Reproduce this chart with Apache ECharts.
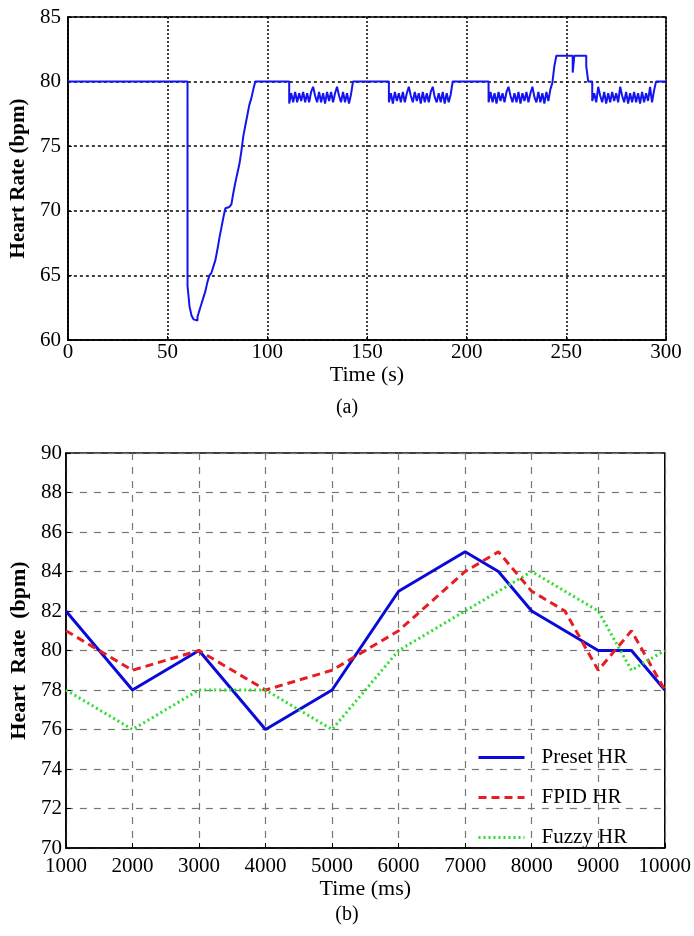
<!DOCTYPE html>
<html>
<head>
<meta charset="utf-8">
<script src="https://cdn.jsdelivr.net/npm/echarts@6/dist/echarts.min.js"></script>
<style>
html,body{margin:0;padding:0;background:#fff;}
#chart{width:694px;height:936px;}
</style>
</head>
<body>
<div id="chart"></div>
<script>
// ---------- (a) Heart rate over time (s) ----------
const topXTicks = [0, 50, 100, 150, 200, 250, 300];
const topYTicks = [60, 65, 70, 75, 80, 85];
const dropTimes = [60, 61, 62, 63, 64, 65, 66, 67, 68, 69, 70, 71, 72, 73, 74, 75, 76, 77, 78, 79, 80, 81, 82, 83, 84, 85, 86, 87, 88, 89, 90, 91, 92, 93, 94];
const dropHR = [64.2, 62.6, 61.9, 61.6, 61.5, 61.8, 62.3, 62.8, 63.3, 63.8, 64.5, 65.0, 65.2, 65.7, 66.2, 67.0, 67.9, 68.7, 69.5, 70.2, 70.3, 70.4, 70.5, 71.4, 72.2, 72.9, 73.6, 74.6, 75.8, 76.6, 77.4, 78.2, 78.7, 79.4, 80];
const osc1Start = 111;
const osc1HR = [78.3, 79.1, 78.4, 79.2, 78.4, 79.1, 78.5, 79.2, 78.4, 79.1, 78.4, 79.2, 79.6, 78.9, 78.4, 79.2, 78.4, 79.1, 78.3, 79.2, 78.5, 79.2, 78.4, 79.1, 79.6, 78.9, 78.4, 79.2, 78.4, 79.1, 78.3, 79.0];
const osc2Start = 161;
const osc2HR = [78.4, 79.1, 78.3, 79.2, 78.5, 79.1, 78.4, 79.2, 78.4, 79.1, 79.6, 78.9, 78.4, 79.2, 78.5, 79.1, 78.3, 79.2, 78.4, 79.1, 78.4, 79.2, 79.6, 78.8, 78.4, 79.1, 78.4, 79.2, 78.3, 79.1, 78.4, 79.0];
const osc3Start = 211;
const osc3HR = [78.4, 79.2, 78.4, 79.1, 78.3, 79.2, 78.5, 79.1, 78.4, 79.2, 79.6, 78.9, 78.4, 79.1, 78.4, 79.2, 78.3, 79.1, 78.5, 79.2, 78.4, 79.1, 79.6, 78.8, 78.4, 79.2, 78.4, 79.1, 78.3, 79.2, 78.5, 79.4];
const bumpTimes = [243, 244, 245, 253.2, 254, 260, 261];
const bumpHR = [79.9, 81.2, 82, 80.7, 82, 81.2, 80];
const osc4Start = 263;
const osc4HR = [78.5, 79.1, 78.4, 79.6, 78.9, 78.4, 79.2, 78.3, 79.1, 78.4, 79.2, 78.5, 79.1, 78.4, 79.6, 78.9, 78.4, 79.2, 78.3, 79.1, 78.4, 79.2, 78.4, 79.1, 78.3, 79.2, 78.4, 79.1, 78.5, 79.6, 78.4, 79.3];
const levelTimes = [0, 143, 193, 295, 300];
const levelHR = [80, 80, 80, 80, 80];

// ---------- (b) Heart rate over time (ms) ----------
const botXTicks = [1000, 2000, 3000, 4000, 5000, 6000, 7000, 8000, 9000, 10000];
const botYTicks = [70, 72, 74, 76, 78, 80, 82, 84, 86, 88, 90];
const presetT = [1000, 2000, 3000, 4000, 5000, 6000, 7000, 7500, 8000, 9000, 9500, 10000];
const presetHR = [82, 78, 80, 76, 78, 83, 85, 84, 82, 80, 80, 78];
const fpidT = [1000, 2000, 3000, 4000, 5000, 6000, 7000, 7500, 8000, 8500, 9000, 9500, 10000];
const fpidHR = [81, 79, 80, 78, 79, 81, 84, 85, 83, 82, 79, 81, 78];
const fuzzyT = [1000, 2000, 3000, 4000, 5000, 6000, 7000, 8000, 9000, 9500, 10000];
const fuzzyHR = [78, 76, 78, 78, 76, 80, 82, 84, 82, 79, 80];

// ---------- build point lists ----------
function pairs(ts, vs) { return ts.map((t, i) => [t, vs[i]]); }
function seg(start, vs) { return vs.map((v, i) => [start + i, v]); }
const topData = [].concat(
  [[levelTimes[0], levelHR[0]]],
  pairs(dropTimes, dropHR),
  seg(osc1Start, osc1HR),
  [[levelTimes[1], levelHR[1]]],
  seg(osc2Start, osc2HR),
  [[levelTimes[2], levelHR[2]]],
  seg(osc3Start, osc3HR),
  pairs(bumpTimes, bumpHR),
  seg(osc4Start, osc4HR),
  [[levelTimes[3], levelHR[3]], [levelTimes[4], levelHR[4]]]
);

const FONT = '"Liberation Serif", "Times New Roman", serif';
const chart = echarts.init(document.getElementById('chart'), null, {renderer: 'canvas'});
const plain = v => String(v);

chart.setOption({
  animation: false,
  backgroundColor: '#fff',
  textStyle: {fontFamily: FONT, color: '#000'},
  grid: [
    {left: 65, right: 28, top: 17, height: 323, show: true, borderColor: '#000', borderWidth: 1.5, backgroundColor: 'transparent'},
    {left: 54, right: 26, top: 453, height: 395, show: true, borderColor: '#000', borderWidth: 1.5, backgroundColor: 'transparent'}
  ],
  xAxis: [
    {
      type: 'value', gridIndex: 0, min: topXTicks[0], max: topXTicks[topXTicks.length - 1], interval: 50,
      name: 'Time (s)', nameLocation: 'middle', nameGap: 21,
      nameTextStyle: {fontFamily: FONT, fontSize: 22, color: '#000'},
      axisLine: {show: true, lineStyle: {color: '#000', width: 1.5}},
      axisTick: {show: true, inside: true, length: 4, lineStyle: {color: '#000'}},
      axisLabel: {fontFamily: FONT, fontSize: 21, color: '#000', margin: 2, formatter: plain},
      splitLine: {show: true, lineStyle: {color: '#000', type: [2, 2], width: 1.5}}
    },
    {
      type: 'value', gridIndex: 1, min: botXTicks[0], max: botXTicks[botXTicks.length - 1], interval: 1000,
      name: 'Time (ms)', nameLocation: 'middle', nameGap: 26,
      nameTextStyle: {fontFamily: FONT, fontSize: 22, color: '#000'},
      axisLine: {show: true, lineStyle: {color: '#000', width: 1.5}},
      axisTick: {show: true, inside: true, length: 5, lineStyle: {color: '#000'}},
      axisLabel: {fontFamily: FONT, fontSize: 21, color: '#000', margin: 8, formatter: plain},
      splitLine: {show: true, lineStyle: {color: '#777', type: [7, 7], width: 1.2}}
    }
  ],
  yAxis: [
    {
      type: 'value', gridIndex: 0, min: topYTicks[0], max: topYTicks[topYTicks.length - 1], interval: 5,
      name: 'Heart Rate (bpm)', nameLocation: 'middle', nameGap: 32, nameRotate: 90,
      nameTextStyle: {fontFamily: FONT, fontSize: 21, fontWeight: 'bold', color: '#000'},
      axisLine: {show: true, lineStyle: {color: '#000', width: 1.5}},
      axisTick: {show: true, inside: true, length: 4, lineStyle: {color: '#000'}},
      axisLabel: {fontFamily: FONT, fontSize: 21, color: '#000', margin: 7, formatter: plain},
      splitLine: {show: true, lineStyle: {color: '#000', type: [3, 3], width: 1.5}}
    },
    {
      type: 'value', gridIndex: 1, min: botYTicks[0], max: botYTicks[botYTicks.length - 1], interval: 2,
      name: 'Heart  Rate  (bpm)', nameLocation: 'middle', nameGap: 30, nameRotate: 90,
      nameTextStyle: {fontFamily: FONT, fontSize: 22, fontWeight: 'bold', color: '#000'},
      axisLine: {show: true, lineStyle: {color: '#000', width: 1.5}},
      axisTick: {show: true, inside: true, length: 5, lineStyle: {color: '#000'}},
      axisLabel: {fontFamily: FONT, fontSize: 21, color: '#000', margin: 4, formatter: plain},
      splitLine: {show: true, lineStyle: {color: '#777', type: [7, 7], width: 1.2}}
    }
  ],
  legend: {
    orient: 'vertical', left: 472, top: 742, itemWidth: 46, itemHeight: 14, itemGap: 19,
    itemStyle: {opacity: 0},
    lineStyle: {width: 3},
    textStyle: {fontFamily: FONT, fontSize: 21, color: '#000', padding: [0, 0, 0, 12]},
    data: ['Preset HR', 'FPID HR', 'Fuzzy HR']
  },
  graphic: [
    {type: 'text', left: 'center', top: 398, style: {text: '(a)', font: '20px ' + FONT, fill: '#000'}},
    {type: 'text', left: 'center', top: 905, style: {text: '(b)', font: '20px ' + FONT, fill: '#000'}}
  ],
  series: [
    {
      name: 'HR', type: 'line', xAxisIndex: 0, yAxisIndex: 0, step: 'end', symbol: 'none',
      data: topData, lineStyle: {color: '#1414f0', width: 2}, z: 5
    },
    {
      name: 'Preset HR', type: 'line', xAxisIndex: 1, yAxisIndex: 1, symbol: 'none',
      data: pairs(presetT, presetHR), itemStyle: {color: '#0a0ad8'},
      lineStyle: {color: '#0a0ad8', width: 3, type: 'solid'}
    },
    {
      name: 'FPID HR', type: 'line', xAxisIndex: 1, yAxisIndex: 1, symbol: 'none',
      data: pairs(fpidT, fpidHR), itemStyle: {color: '#e61e23'},
      lineStyle: {color: '#e61e23', width: 3, type: [8, 5]}
    },
    {
      name: 'Fuzzy HR', type: 'line', xAxisIndex: 1, yAxisIndex: 1, symbol: 'none',
      data: pairs(fuzzyT, fuzzyHR), itemStyle: {color: '#2edc2e'},
      lineStyle: {color: '#2edc2e', width: 3, type: [2, 3]}
    }
  ]
});
</script>
</body>
</html>
